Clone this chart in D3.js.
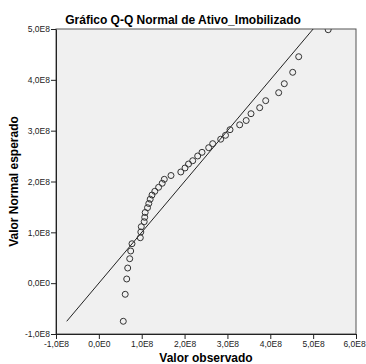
<!DOCTYPE html>
<html>
<head>
<meta charset="utf-8">
<script src="https://cdn.jsdelivr.net/npm/d3@7"></script>
<style>
  body { margin: 0; background: #fff; }
  svg { display: block; font-family: Arial, "Liberation Sans", sans-serif; }
</style>
</head>
<body>
<svg id="chart" width="366" height="364"></svg>
<script>
// observed values (x) and expected normal values (y), units of 1e8
var observed = [0.570, 0.615, 0.650, 0.673, 0.720, 0.743, 0.773, 0.967, 0.979, 0.990,
  1.058, 1.070, 1.081, 1.135, 1.165, 1.198, 1.240, 1.305, 1.394, 1.478,
  1.527, 1.683, 1.912, 2.010, 2.092, 2.190, 2.306, 2.407, 2.563, 2.656,
  2.843, 2.955, 3.060, 3.286, 3.438, 3.550, 3.753, 3.893, 4.196, 4.327,
  4.523, 4.663, 5.351]
var expected = [-0.750, -0.219, 0.082, 0.298, 0.481, 0.633, 0.776, 0.894, 1.007, 1.111,
  1.209, 1.296, 1.390, 1.485, 1.567, 1.652, 1.734, 1.807, 1.886, 1.965,
  2.043, 2.118, 2.187, 2.266, 2.344, 2.409, 2.502, 2.574, 2.665, 2.744,
  2.832, 2.909, 3.019, 3.115, 3.200, 3.334, 3.452, 3.590, 3.747, 3.924,
  4.148, 4.455, 4.986]
var refLine = [-0.75, 5.0]
var xTicks = [-1, 0, 1, 2, 3, 4, 5, 6]
var yTicks = [-1, 0, 1, 2, 3, 4, 5]

var margin = { top: 29, right: 10, bottom: 30, left: 56 },
  width = 356 - margin.left,
  height = 334 - margin.top

var svg = d3.select('#chart')

var x = d3.scaleLinear().domain([-1, 6]).range([margin.left, margin.left + width])
var y = d3.scaleLinear().domain([-1, 5]).range([margin.top + height, margin.top])

const fmt = v => v.toFixed(1).replace('.', ',') + (v === 0 ? 'E0' : 'E8')

// plot background
svg.append('rect')
  .attr('x', margin.left).attr('y', margin.top)
  .attr('width', width).attr('height', height)
  .attr('fill', '#f0f0f0')
  .attr('stroke', '#555').attr('stroke-width', 1)

svg.append('clipPath').attr('id', 'clip')
  .append('rect')
  .attr('x', margin.left).attr('y', margin.top)
  .attr('width', width).attr('height', height)

// axes
var xAxis = svg.append('g')
  .attr('transform', 'translate(0,' + (margin.top + height) + ')')
  .call(d3.axisBottom(x).tickValues(xTicks).tickFormat(fmt).tickSize(5).tickSizeOuter(0))
var yAxis = svg.append('g')
  .attr('transform', 'translate(' + margin.left + ',0)')
  .call(d3.axisLeft(y).tickValues(yTicks).tickFormat(fmt).tickSize(5).tickSizeOuter(0))

;[xAxis, yAxis].forEach(g => {
  g.select('.domain').attr('stroke', '#222')
  g.selectAll('.tick line').attr('stroke', '#222')
  g.selectAll('.tick text')
    .attr('font-family', 'Arial, "Liberation Sans", sans-serif')
    .attr('font-size', 8.5).attr('fill', '#222')
})
xAxis.selectAll('.tick text').attr('dy', '0.6em')
// last label sits at the right edge, nudge it in so it stays inside
xAxis.selectAll('.tick text').filter(d => d === 6).attr('x', -2)
yAxis.selectAll('.tick text').attr('x', -6)

var plot = svg.append('g').attr('clip-path', 'url(#clip)')

// reference line y = x
plot.append('line')
  .attr('x1', x(refLine[0])).attr('y1', y(refLine[0]))
  .attr('x2', x(refLine[1])).attr('y2', y(refLine[1]))
  .attr('stroke', '#222').attr('stroke-width', 1)

// points
plot.selectAll('circle.pt')
  .data(observed.map((v, i) => [v, expected[i]]))
  .enter().append('circle')
  .attr('class', 'pt')
  .attr('cx', d => x(d[0]))
  .attr('cy', d => y(d[1]))
  .attr('r', 3)
  .attr('fill', 'none')
  .attr('stroke', '#333')
  .attr('stroke-width', 1)

// title and axis labels
svg.append('text')
  .attr('x', 183).attr('y', 24)
  .attr('text-anchor', 'middle')
  .attr('font-size', 12).attr('font-weight', 'bold')
  .text('Gráfico Q-Q Normal de Ativo_Imobilizado')

svg.append('text')
  .attr('x', margin.left + width / 2).attr('y', 362)
  .attr('text-anchor', 'middle')
  .attr('font-size', 12).attr('font-weight', 'bold')
  .text('Valor observado')

svg.append('text')
  .attr('transform', 'translate(18,' + (margin.top + height / 2) + ') rotate(-90)')
  .attr('text-anchor', 'middle')
  .attr('font-size', 12).attr('font-weight', 'bold')
  .text('Valor Normal esperado')
</script>
</body>
</html>
